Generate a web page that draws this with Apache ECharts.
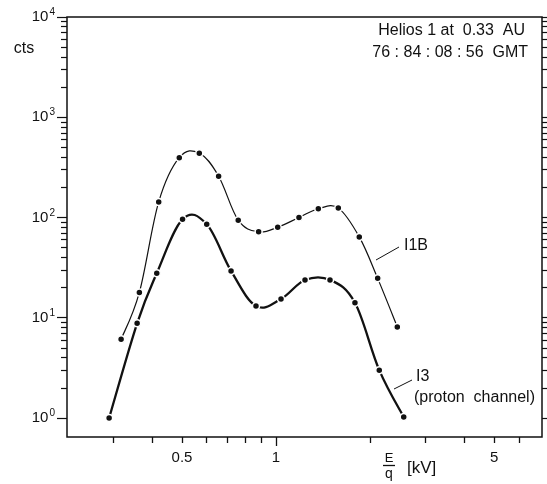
<!DOCTYPE html>
<html>
<head>
<meta charset="utf-8">
<title>Helios 1 E/q spectra</title>
<script src="https://cdn.jsdelivr.net/npm/echarts@6/dist/echarts.min.js"></script>
<style>
html, body { margin: 0; padding: 0; background: #fff; }
#chart { width: 547px; height: 484px; }
</style>
</head>
<body>
<div id="chart"></div>
<script>
// values: E/q in kV, counts
var energyI1B = [0.319, 0.365, 0.421, 0.490, 0.568, 0.655, 0.757, 0.880, 1.013, 1.185, 1.367, 1.584, 1.849, 2.118, 2.448];
var countsI1B = [6.1, 17.9, 143, 395, 437, 258, 94, 72, 80, 100, 122, 124, 64, 24.7, 8.1];

var energyI3 = [0.292, 0.359, 0.415, 0.502, 0.600, 0.718, 0.863, 1.038, 1.239, 1.490, 1.791, 2.143, 2.567];
var countsI3 = [1.0, 8.8, 27.8, 96, 85.5, 29.3, 13.1, 15.4, 23.8, 23.8, 14.1, 3.0, 1.02];

// axes
var xMin = 0.214, xMax = 7.12;
var yMin = 0.646, yMax = 10000;
var xLabels = [0.5, 1, 5];
var xMinorTicks = [0.3, 0.4, 0.5, 0.6, 0.7, 0.8, 0.9, 2, 3, 4, 5, 6];
var xMajorTicks = [1];
var yMajorTicks = [1, 10, 100, 1000, 10000];
var yMinorTicks = [];
for (var p = 1; p < 10000; p *= 10) {
  for (var k = 2; k <= 9; k++) yMinorTicks.push(k * p);
}

var FONT = '"Liberation Sans", Arial, sans-serif';
var INK = '#111';

function zip(xs, ys) {
  return xs.map(function (x, i) { return [x, ys[i]]; });
}

// hand-drawn looking spline (catmull-rom in pixel space), one bezier per segment
function curveRenderer(xs, ys, width) {
  var t = 0.18;
  return function (params, api) {
    var i = params.dataIndex;
    var n = xs.length;
    if (i >= n - 1) return null;
    var pt = function (j) {
      j = Math.max(0, Math.min(n - 1, j));
      return api.coord([xs[j], ys[j]]);
    };
    var p0 = pt(i - 1), p1 = pt(i), p2 = pt(i + 1), p3 = pt(i + 2);
    return {
      type: 'bezierCurve',
      shape: {
        x1: p1[0], y1: p1[1],
        x2: p2[0], y2: p2[1],
        cpx1: p1[0] + (p2[0] - p0[0]) * t,
        cpy1: p1[1] + (p2[1] - p0[1]) * t,
        cpx2: p2[0] - (p3[0] - p1[0]) * t,
        cpy2: p2[1] - (p3[1] - p1[1]) * t
      },
      style: { stroke: INK, lineWidth: width, fill: null, lineCap: 'round' }
    };
  };
}

function xAxisCfg(ticks, len, labels) {
  return {
    type: 'log',
    position: 'bottom',
    min: xMin,
    max: xMax,
    axisLine: { show: false },
    splitLine: { show: false },
    minorTick: { show: false },
    axisTick: { show: true, customValues: ticks, length: len, lineStyle: { color: INK, width: 1.3 } },
    axisLabel: labels ? {
      show: true,
      customValues: labels,
      margin: 13,
      color: INK,
      fontFamily: FONT,
      fontSize: 15,
      formatter: function (v) { return String(v); }
    } : { show: false }
  };
}

function yAxisCfg(pos, ticks, len, showLabel) {
  return {
    type: 'log',
    position: pos,
    min: yMin,
    max: yMax,
    axisLine: { show: false },
    splitLine: { show: false },
    minorTick: { show: false },
    axisTick: { show: true, customValues: ticks, length: len, lineStyle: { color: INK, width: 1.2 } },
    axisLabel: showLabel ? {
      show: true,
      customValues: ticks,
      margin: 12,
      color: INK,
      formatter: function (v) {
        return '{b|10}{s|' + Math.round(Math.log10(v)) + '}';
      },
      rich: {
        b: { fontFamily: FONT, fontSize: 15, color: INK },
        s: { fontFamily: FONT, fontSize: 10, color: INK, padding: [0, 0, 9, 1] }
      }
    } : { show: false }
  };
}

var myChart = echarts.init(document.getElementById('chart'));

var dotStyle = { color: INK, borderColor: '#fff', borderWidth: 1.5, opacity: 1 };

var option = {
  backgroundColor: '#fff',
  animation: false,
  grid: {
    left: 67, top: 17, width: 475, height: 420,
    show: true, borderColor: INK, borderWidth: 1.5,
    outerBoundsMode: 'none'
  },
  xAxis: [
    xAxisCfg(xMinorTicks, 6, xLabels),
    xAxisCfg(xMajorTicks, 9, null)
  ],
  yAxis: [
    yAxisCfg('left', yMajorTicks, 10, true),
    yAxisCfg('left', yMinorTicks, 6, false),
    yAxisCfg('right', yMajorTicks, 10, false),
    yAxisCfg('right', yMinorTicks, 6, false)
  ],
  series: [
    {
      name: 'I1B line',
      type: 'custom',
      data: zip(energyI1B, countsI1B),
      encode: { x: 0, y: 1 },
      renderItem: curveRenderer(energyI1B, countsI1B, 1.2)
    },
    {
      name: 'I3 line',
      type: 'custom',
      data: zip(energyI3, countsI3),
      encode: { x: 0, y: 1 },
      renderItem: curveRenderer(energyI3, countsI3, 2.3)
    },
    {
      name: 'I1B',
      type: 'scatter',
      data: zip(energyI1B, countsI1B),
      symbol: 'circle',
      symbolSize: 7,
      itemStyle: dotStyle
    },
    {
      name: 'I3',
      type: 'scatter',
      data: zip(energyI3, countsI3),
      symbol: 'circle',
      symbolSize: 7,
      itemStyle: dotStyle
    }
  ],
  graphic: [
    { type: 'text', style: { text: 'Helios 1 at  0.33  AU', x: 525, y: 31, textAlign: 'right', textVerticalAlign: 'middle', font: '16px ' + FONT, fill: INK } },
    { type: 'text', style: { text: '76 : 84 : 08 : 56  GMT', x: 528, y: 53, textAlign: 'right', textVerticalAlign: 'middle', font: '16px ' + FONT, fill: INK } },
    { type: 'text', style: { text: 'cts', x: 24, y: 49, textAlign: 'center', textVerticalAlign: 'middle', font: '16px ' + FONT, fill: INK } },
    // x axis name E/q [kV]
    { type: 'text', style: { text: 'E', x: 389, y: 458, textAlign: 'center', textVerticalAlign: 'middle', font: '13px ' + FONT, fill: INK } },
    { type: 'line', shape: { x1: 383, y1: 465.5, x2: 395, y2: 465.5 }, style: { stroke: INK, lineWidth: 1.3 } },
    { type: 'text', style: { text: 'q', x: 389, y: 474, textAlign: 'center', textVerticalAlign: 'middle', font: '14px ' + FONT, fill: INK } },
    { type: 'text', style: { text: '[kV]', x: 407, y: 468, textAlign: 'left', textVerticalAlign: 'middle', font: '17px ' + FONT, fill: INK } },
    // curve labels
    { type: 'line', shape: { x1: 376, y1: 260, x2: 399, y2: 247 }, style: { stroke: INK, lineWidth: 1 } },
    { type: 'text', style: { text: 'I1B', x: 404, y: 246, textAlign: 'left', textVerticalAlign: 'middle', font: '16px ' + FONT, fill: INK } },
    { type: 'line', shape: { x1: 394, y1: 389, x2: 412, y2: 380 }, style: { stroke: INK, lineWidth: 1 } },
    { type: 'text', style: { text: 'I3', x: 416, y: 377, textAlign: 'left', textVerticalAlign: 'middle', font: '16px ' + FONT, fill: INK } },
    { type: 'text', style: { text: '(proton  channel)', x: 414, y: 398, textAlign: 'left', textVerticalAlign: 'middle', font: '16px ' + FONT, fill: INK } }
  ]
};

myChart.setOption(option);
window.onresize = function () { myChart.resize(); };
</script>
</body>
</html>
